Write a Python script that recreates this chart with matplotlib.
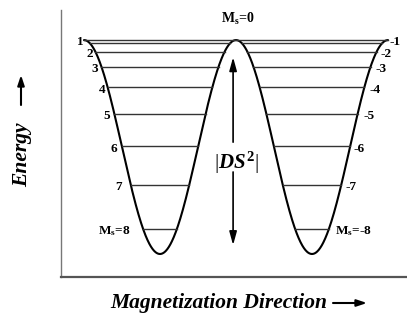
import numpy as np
import matplotlib
matplotlib.use("Agg")
import matplotlib.pyplot as plt

# ---- data (energies in units of D, E = -D*Ms^2) ----
barrier = 72.5                      # depth of the double-well curve
ms_levels = [1, 2, 3, 4, 5, 6, 7, 8]
left_labels = ["1", "2", "3", "4", "5", "6", "7", r"$\mathbf{M}_{\mathbf{s}}$=8"]
right_labels = ["-1", "-2", "-3", "-4", "-5", "-6", "-7", r"$\mathbf{M}_{\mathbf{s}}$=-8"]
top_label = r"$\mathbf{M}_{\mathbf{s}}$=0"
barrier_label = r"$|\mathit{DS}^{\mathbf{2}}|$"
xlabel = "Magnetization Direction"
ylabel = "Energy"

# label offsets (pixels) from the curve at each level
left_dx = [-6, -2.5, -3.4, -2.6, -4, -5, -8.6, -13]
right_dx = [7, 4, 5, 5, 6, 3, 4, 6]
label_dy = [1, -2.5, -2.5, -2.5, -2.5, -2.5, -2.5, -2.5]

plt.rcParams["mathtext.fontset"] = "custom"
plt.rcParams["mathtext.rm"] = "Liberation Serif"
plt.rcParams["mathtext.it"] = "Liberation Serif:italic:bold"
plt.rcParams["mathtext.bf"] = "Liberation Serif:bold"

W, H = 407, 322
fig = plt.figure(figsize=(W / 100, H / 100), dpi=100)
ax = fig.add_axes([61 / W, (H - 277) / H, (W - 61) / W, 267 / H])

theta = np.linspace(-np.pi / 2, 3 * np.pi / 2, 800)
energy = -barrier * np.cos(theta) ** 2
ax.plot(theta, energy, color="black", lw=1.5, solid_capstyle="round")

# Ms = 0 level across the top
ax.plot([-np.pi / 2, 3 * np.pi / 2], [0, 0], color="#333333", lw=1.0)

for m, ll, rl, ldx, rdx, dy in zip(ms_levels, left_labels, right_labels,
                                   left_dx, right_dx, label_dy):
    e = -m ** 2
    a = np.arccos(m / np.sqrt(barrier))
    ax.plot([-a, a], [e, e], color="#333333", lw=1.0)
    ax.plot([np.pi - a, np.pi + a], [e, e], color="#333333", lw=1.0)
    ax.annotate(ll, xy=(-a, e), xytext=(ldx, dy), textcoords="offset pixels",
                ha="right", va="center", fontsize=9.5, fontweight="bold",
                family="Liberation Serif")
    ax.annotate(rl, xy=(np.pi + a, e), xytext=(rdx, dy), textcoords="offset pixels",
                ha="left", va="center", fontsize=9.5, fontweight="bold",
                family="Liberation Serif")

ax.annotate(top_label, xy=(np.pi / 2, 0), xytext=(2, 21), textcoords="offset pixels",
            ha="center", va="center", fontsize=10, fontweight="bold",
            family="Liberation Serif")

# barrier double arrow
xa = np.pi / 2 - 0.06
arrow_kw = dict(arrowstyle="-|>,head_length=0.8,head_width=0.22", color="black",
                lw=1.2, shrinkA=0, shrinkB=0)
ax.annotate("", xy=(xa, -5.8), xytext=(xa, -34.6), arrowprops=arrow_kw)
ax.annotate("", xy=(xa, -69.5), xytext=(xa, -44.7), arrowprops=arrow_kw)
ax.text(np.pi / 2 + 0.01, -41.7, barrier_label, ha="center", va="center",
        fontsize=15, family="Liberation Serif")

ax.set_xlim(-2.046, 5.105)
ax.set_ylim(-80.3, 10.2)
ax.set_xticks([])
ax.set_yticks([])
for s in ["top", "right"]:
    ax.spines[s].set_visible(False)
ax.spines["left"].set_color("#777777")
ax.spines["left"].set_linewidth(1.0)
ax.spines["bottom"].set_color("#555555")
ax.spines["bottom"].set_linewidth(1.6)
ax.patch.set_alpha(0)

# axis labels with arrows
fig.text(218.5 / W, (H - 303) / H, xlabel, ha="center", va="center", fontsize=15.5,
         fontweight="bold", style="italic", family="Liberation Serif")
fig.text(22 / W, (H - 155) / H, ylabel, ha="center", va="center", fontsize=15.5,
         fontweight="bold", style="italic", family="Liberation Serif", rotation=90)
ax_kw = dict(arrowstyle="-|>,head_length=0.6,head_width=0.2", color="black",
             lw=1.5, shrinkA=0, shrinkB=0)
ax.annotate("", xy=(367, H - 303), xytext=(333, H - 303), xycoords="figure pixels",
            textcoords="figure pixels", arrowprops=ax_kw, annotation_clip=False)
ax.annotate("", xy=(21, H - 75), xytext=(21, H - 105), xycoords="figure pixels",
            textcoords="figure pixels", arrowprops=ax_kw, annotation_clip=False)

fig.savefig("out.png", dpi=100)
